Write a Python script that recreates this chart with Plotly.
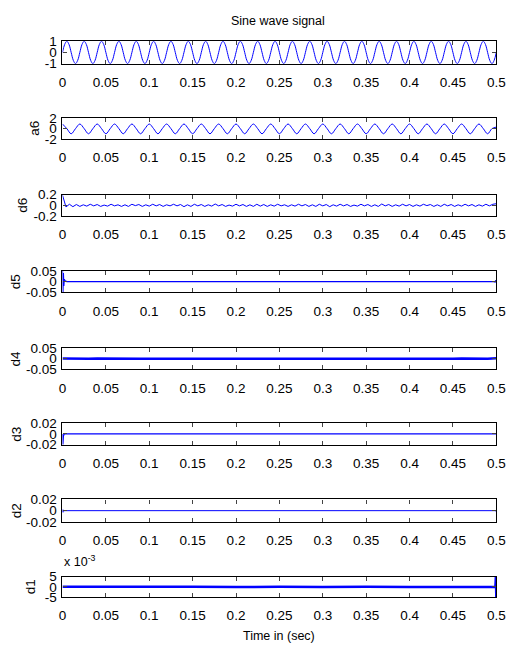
import numpy as np
import plotly.graph_objects as go

W, H = 517, 653

# ---------------- data ----------------
# sine wave signal: values at eighth-period instants (step 0.0025 s), 25 cycles
sine_vals = [
    0, 0.71, 1, 0.71, 0, -0.71, -1, -0.71,
    0, 0.71, 1, 0.71, 0, -0.71, -1, -0.71,
    0, 0.71, 1, 0.71, 0, -0.71, -1, -0.71,
    0, 0.71, 1, 0.71, 0, -0.71, -1, -0.71,
    0, 0.71, 1, 0.71, 0, -0.71, -1, -0.71,
    0, 0.71, 1, 0.71, 0, -0.71, -1, -0.71,
    0, 0.71, 1, 0.71, 0, -0.71, -1, -0.71,
    0, 0.71, 1, 0.71, 0, -0.71, -1, -0.71,
    0, 0.71, 1, 0.71, 0, -0.71, -1, -0.71,
    0, 0.71, 1, 0.71, 0, -0.71, -1, -0.71,
    0, 0.71, 1, 0.71, 0, -0.71, -1, -0.71,
    0, 0.71, 1, 0.71, 0, -0.71, -1, -0.71,
    0, 0.71, 1, 0.71, 0, -0.71, -1, -0.71,
    0, 0.71, 1, 0.71, 0, -0.71, -1, -0.71,
    0, 0.71, 1, 0.71, 0, -0.71, -1, -0.71,
    0, 0.71, 1, 0.71, 0, -0.71, -1, -0.71,
    0, 0.71, 1, 0.71, 0, -0.71, -1, -0.71,
    0, 0.71, 1, 0.71, 0, -0.71, -1, -0.71,
    0, 0.71, 1, 0.71, 0, -0.71, -1, -0.71,
    0, 0.71, 1, 0.71, 0, -0.71, -1, -0.71,
    0, 0.71, 1, 0.71, 0, -0.71, -1, -0.71,
    0, 0.71, 1, 0.71, 0, -0.71, -1, -0.71,
    0, 0.71, 1, 0.71, 0, -0.71, -1, -0.71,
    0, 0.71, 1, 0.71, 0, -0.71, -1, -0.71,
    0, 0.71, 1, 0.71, 0, -0.71, -1, -0.71,
    0]

# a6 approximation: values at quarter-period instants (step 0.005 s)
a6_vals = [0.9, 0.0, -1.0, 0.0, 0.9, 0.0, -1.0, 0.0, 0.9, 0.0, -1.0, 0.0, 0.9, 0.0, -1.0, 0.0,
           0.9, 0.0, -1.0, 0.0, 0.9, 0.0, -1.0, 0.0, 0.9, 0.0, -1.0, 0.0, 0.9, 0.0, -1.0, 0.0,
           0.9, 0.0, -1.0, 0.0, 0.9, 0.0, -1.0, 0.0, 0.9, 0.0, -1.0, 0.0, 0.9, 0.0, -1.0, 0.0,
           0.9, 0.0, -1.0, 0.0, 0.9, 0.0, -1.0, 0.0, 0.9, 0.0, -1.0, 0.0, 0.9, 0.0, -1.0, 0.0,
           0.9, 0.0, -1.0, 0.0, 0.9, 0.0, -1.0, 0.0, 0.9, 0.0, -1.0, 0.0, 0.9, 0.0, -1.0, 0.0,
           0.9, 0.0, -1.0, 0.0, 0.9, 0.0, -1.0, 0.0, 0.9, 0.0, -1.0, 0.0, 0.9, 0.0, -1.0, 0.0,
           0.9, 0.0, -1.0, 0.0, 0.3]

# d6 detail: step 0.004 s
d6_vals = [0.19, -0.03, 0.02, -0.025, 0.015, -0.02, 0.01, -0.015, 0.02, -0.01,
           0.015, -0.02, 0.005, -0.015, 0.02, -0.01, 0.01, -0.02, 0.01, -0.02,
           0.02, -0.005, 0.015, -0.02, 0.01, -0.015, 0.02, -0.01, 0.015, -0.02,
           0.01, -0.01, 0.02, -0.01, 0.015, -0.025, 0.01, -0.02, 0.02, -0.01,
           0.015, -0.02, 0.01, -0.015, 0.025, -0.01, 0.015, -0.02, 0.005, -0.015,
           0.02, -0.01, 0.015, -0.02, 0.01, -0.02, 0.02, -0.015, 0.015, -0.02,
           0.01, -0.015, 0.02, -0.01, 0.01, -0.02, 0.01, -0.015, 0.02, -0.01,
           0.015, -0.02, 0.01, -0.02, 0.02, -0.01, 0.015, -0.025, 0.01, -0.015,
           0.02, -0.01, 0.015, -0.02, 0.005, -0.015, 0.02, -0.01, 0.015, -0.02,
           0.01, -0.02, 0.025, -0.01, 0.015, -0.02, 0.01, -0.015, 0.02, -0.01,
           0.015, -0.02, 0.01, -0.015, 0.02, -0.005, 0.015, -0.02, 0.01, -0.02,
           0.02, -0.01, 0.015, -0.02, 0.01, -0.015, 0.02, -0.01, 0.015, -0.02,
           0.01, -0.015, 0.02, -0.01, 0.02, 0.03]

# d5 detail (sparse samples)
d5_t = [0.0, 0.0005, 0.001, 0.0015, 0.002, 0.003, 0.005, 0.497, 0.4985, 0.4995, 0.5]
d5_v = [0.05, -0.05, 0.04, -0.02, 0.01, 0.003, 0.0, 0.0, -0.002, 0.006, -0.004]

# d4 detail: step 0.01 s
d4_vals = [0.001, -0.0005, 0.0003, -0.0003, 0.0005, -0.0003, 0.0003, -0.0005, 0.0003, 0.0,
           -0.0003, 0.0005, -0.0003, 0.0003, -0.0005, 0.0003, 0.0, -0.0003, 0.0005, -0.0003,
           0.0003, -0.0005, 0.0003, 0.0, -0.0003, 0.0005, -0.0003, 0.0003, -0.0005, 0.0003,
           0.0, -0.0003, 0.0005, -0.0003, 0.0003, -0.0005, 0.0003, 0.0, -0.0003, 0.0005,
           -0.0003, 0.0003, -0.0005, 0.0003, 0.0, -0.0003, 0.0005, -0.0003, 0.0003, -0.0005, 0.002]

# d3 detail (sparse samples)
d3_t = [0.0, 0.0004, 0.001, 0.002, 0.5]
d3_v = [0.0, -0.02, -0.004, 0.0, 0.0]

# d2 detail (sparse samples)
d2_t = [0.0, 0.0005, 0.001, 0.002, 0.4995, 0.5]
d2_v = [0.002, -0.003, 0.001, 0.0, 0.0, -0.002]

# d1 detail (x 10^-3), sparse samples
d1_t = [0.0, 0.05, 0.1, 0.15, 0.2, 0.25, 0.3, 0.35, 0.4, 0.45, 0.499, 0.4995, 0.5]
d1_v = [0.0, 0.1, -0.1, 0.1, -0.1, 0.1, -0.1, 0.1, -0.1, 0.1, 0.0, 5.0, -5.0]

x_ticks = [0, 0.05, 0.1, 0.15, 0.2, 0.25, 0.3, 0.35, 0.4, 0.45, 0.5]
x_ticklabels = ["0", "0.05", "0.1", "0.15", "0.2", "0.25", "0.3", "0.35", "0.4", "0.45", "0.5"]

panels = [
    dict(label="", yt=[-1, 0, 1], ytl=["-1", "0", "1"], box=(35, 58)),
    dict(label="a6", yt=[-2, 0, 2], ytl=["-2", "0", "2"], box=(114, 135)),
    dict(label="d6", yt=[-0.2, 0, 0.2], ytl=["-0.2", "0", "0.2"], box=(192, 214)),
    dict(label="d5", yt=[-0.05, 0, 0.05], ytl=["-0.05", "0", "0.05"], box=(270, 292)),
    dict(label="d4", yt=[-0.05, 0, 0.05], ytl=["-0.05", "0", "0.05"], box=(349, 371)),
    dict(label="d3", yt=[-0.02, 0, 0.02], ytl=["-0.02", "0", "0.02"], box=(426, 448)),
    dict(label="d2", yt=[-0.02, 0, 0.02], ytl=["-0.02", "0", "0.02"], box=(504, 527)),
    dict(label="d1", yt=[-5, 0, 5], ytl=["-5", "0", "5"], box=(583, 604)),
]
label_x = [0, 31, 19, 12, 12, 13, 13, 28]

# ---------------- series ----------------
t_s = np.linspace(0, 0.5, len(sine_vals))
t_a6 = np.linspace(0, 0.5, len(a6_vals))
t_d6 = np.linspace(0, 0.5, len(d6_vals))
t_d4 = np.linspace(0, 0.5, len(d4_vals))

series = [
    (t_s, sine_vals, "spline", 1.0),
    (t_a6, a6_vals, "spline", 1.0),
    (t_d6, d6_vals, "linear", 1.0),
    (d5_t, d5_v, "linear", 1.3),
    (t_d4, d4_vals, "linear", 2.5),
    (d3_t, d3_v, "linear", 1.3),
    (d2_t, d2_v, "linear", 1.0),
    (d1_t, d1_v, "linear", 2.5),
]

fig = go.Figure()
FONT = "Liberation Sans, Arial, sans-serif"
annotations = []

for i, (p, s) in enumerate(zip(panels, series)):
    n = i + 1
    xa = "x" if n == 1 else f"x{n}"
    ya = "y" if n == 1 else f"y{n}"
    fig.add_trace(go.Scatter(x=s[0], y=s[1], mode="lines",
                             line=dict(color="#0000ff", width=s[3], shape=s[2],
                                       smoothing=1.0 if s[2] == "spline" else None),
                             xaxis=xa, yaxis=ya, showlegend=False, hoverinfo="skip"))
    top, bot = p["box"]
    xkey = "xaxis" if n == 1 else f"xaxis{n}"
    ykey = "yaxis" if n == 1 else f"yaxis{n}"
    fig.update_layout(**{
        xkey: dict(domain=[60 / W, 505 / W], range=[0, 0.5], anchor=ya,
                   tickvals=x_ticks, ticktext=x_ticklabels,
                   ticks="inside", ticklen=4, tickcolor="#444", mirror="ticks",
                   showline=True, linecolor="black", linewidth=1.2,
                   showgrid=False, zeroline=False, ticklabelstandoff=6,
                   tickfont=dict(family=FONT, size=13.5, color="black")),
        ykey: dict(domain=[1 - bot / H, 1 - top / H], range=[p["yt"][0], p["yt"][-1]],
                   anchor=xa, tickvals=p["yt"], ticktext=p["ytl"],
                   ticks="inside", ticklen=4, tickcolor="#444", mirror="ticks",
                   showline=True, linecolor="black", linewidth=1.2,
                   showgrid=False, zeroline=False, ticklabelstandoff=2,
                   tickfont=dict(family=FONT, size=13.5, color="black")),
    })
    if p["label"]:
        annotations.append(dict(text=p["label"], x=label_x[i] / W, y=1 - (top + bot) / 2 / H,
                                xref="paper", yref="paper", showarrow=False, textangle=-90,
                                xanchor="center", yanchor="middle",
                                font=dict(family=FONT, size=13.5, color="black")))

annotations.append(dict(text="Sine wave signal", x=281 / W, y=1 - 14 / H, xref="paper", yref="paper",
                        showarrow=False, xanchor="center", yanchor="middle",
                        font=dict(family=FONT, size=12.5, color="black")))
annotations.append(dict(text="x 10<sup>-3</sup>", x=60 / W, y=1 - 567 / H, xref="paper", yref="paper",
                        showarrow=False, xanchor="left", yanchor="middle",
                        font=dict(family=FONT, size=12.5, color="black")))
annotations.append(dict(text="Time in (sec)", x=282 / W, y=1 - 644 / H, xref="paper", yref="paper",
                        showarrow=False, xanchor="center", yanchor="middle",
                        font=dict(family=FONT, size=12.5, color="black")))

fig.update_layout(width=W, height=H, margin=dict(l=0, r=0, t=0, b=0),
                  paper_bgcolor="white", plot_bgcolor="white",
                  annotations=annotations, font=dict(family=FONT))
fig.write_html("out.html")
